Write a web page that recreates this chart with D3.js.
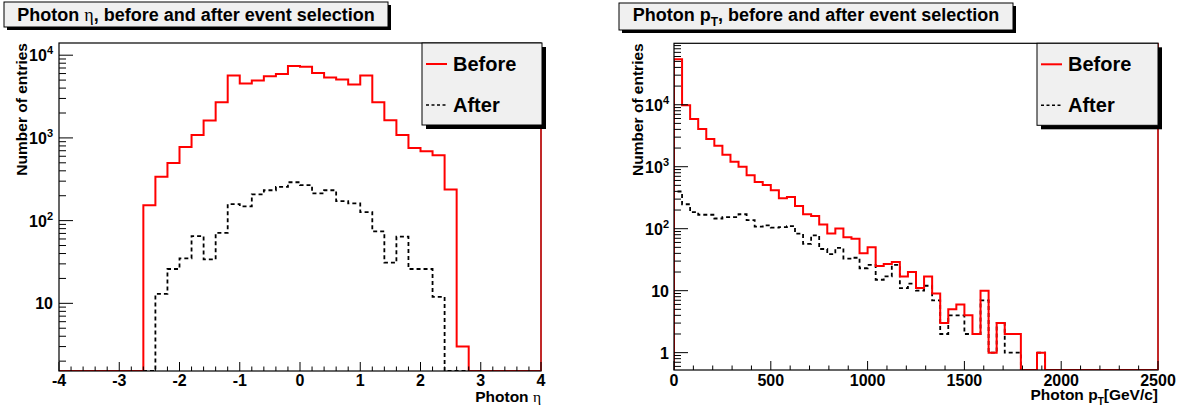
<!DOCTYPE html>
<html><head><meta charset="utf-8">
<script src="https://cdn.jsdelivr.net/npm/d3@7"></script>
<style>
body{margin:0;background:#fff;}
text{font-family:"Liberation Sans",Arial,sans-serif;font-weight:bold;fill:#000;}
.sym{font-family:"Liberation Serif","DejaVu Serif",serif;font-weight:normal;}
</style></head>
<body>
<svg id="c" width="1181" height="412"></svg>
<script>
// ---------- data ----------
const etaRange = [-4, 4];
const etaBinWidth = 0.2;
const etaBefore = [0,0,0,0,0,0,0,153,338,499,778,1086,1622,2703,5682,4546,4943,5574,5940,7427,
                   7260,6092,5376,5083,4423,5682,2703,1637,1086,757,690,618,238,3,0,0,0,0,0,0];
const etaAfter  = [0,0,0,0,0,0,0,0,13,26,35,65,34,71,158,149,208,233,256,291,
                   268,214,233,172,162,127,74,31,64,26,26,12,0,0,0,0,0,0,0,0];
const ptRange = [0, 2500];
const ptBinWidth = 2500/60;
const ptBefore = [54000,9800,5900,4060,2800,2180,1560,1200,995,731,569,509,418,310,325,232,171,160,117,84,
                  101,73,69,40,50,25,27,29,17,20,11,17,9,3,5,6,4,2,10,1,3,2,2,0,0,1,0,0,0,0,
                  0,0,0,0,0,0,0,0,0,0];
const ptAfter  = [398,248,185,168,168,146,154,154,171,138,108,113,104,106,110,83,57,78,47,39,
                  49,33,34,23,26,15,17,26,11,13,10,12,7,2,4,4,2,2,7,1,3,1,1,0,0,1,0,0,0,0,
                  0,0,0,0,0,0,0,0,0,0];
const etaTicks = [-4,-3,-2,-1,0,1,2,3,4];
const ptTicks = [0,500,1000,1500,2000,2500];
const leftYLabels = [[10,"10",""],[100,"10","2"],[1000,"10","3"],[10000,"10","4"]];
const rightYLabels = [[1,"1",""],[10,"10",""],[100,"10","2"],[1000,"10","3"],[10000,"10","4"]];
const legendNames = ["Before","After"];

// ---------- drawing ----------
const svg = d3.select("#c");
const defs = svg.append("defs");

function panel(o){
  const g = svg.append("g");
  const x = d3.scaleLinear().domain(o.xDomain).range([o.L, o.R]);
  const y = d3.scaleLog().domain(o.yDomain).range([o.B, o.T]);
  const cid = "clip"+o.id;
  defs.append("clipPath").attr("id",cid).append("rect")
     .attr("x",o.L).attr("y",o.T-2).attr("width",o.R-o.L).attr("height",o.B-o.T+2);

  function stepPts(vals){
    const pts=[[x(o.xDomain[0]), o.B]];
    vals.forEach((v,i)=>{
      const yy = v>0 ? y(Math.max(v,o.yDomain[0])) : o.B;
      pts.push([x(o.xDomain[0]+i*o.bw), yy],[x(o.xDomain[0]+(i+1)*o.bw), yy]);
    });
    pts.push([x(o.xDomain[1]), o.B]);
    return pts;
  }
  const hg = g.append("g").attr("clip-path",`url(#${cid})`);
  hg.append("path").attr("d",d3.line()(stepPts(o.after))).attr("fill","none")
    .attr("stroke","#000").attr("stroke-width",1.8).attr("stroke-dasharray","4,3");
  hg.append("path").attr("d",d3.line()(stepPts(o.before))).attr("fill","none")
    .attr("stroke","#ff0000").attr("stroke-width",2);

  g.append("rect").attr("x",o.L).attr("y",o.T).attr("width",o.R-o.L).attr("height",o.B-o.T)
   .attr("fill","none").attr("stroke","#000").attr("stroke-width",1.2);
  g.append("line").attr("x1",o.R).attr("x2",o.R).attr("y1",o.T).attr("y2",o.B)
   .attr("stroke","#ff0000").attr("stroke-width",1.2);

  const xt = g.append("g");
  d3.range(o.xDomain[0], o.xDomain[1]+o.xMinor/2, o.xMinor).forEach(v=>{
    const isMaj = Math.abs(v/o.xMajor - Math.round(v/o.xMajor))<1e-6;
    xt.append("line").attr("x1",x(v)).attr("x2",x(v)).attr("y1",o.B).attr("y2",o.B-(isMaj?9:4.5))
      .attr("stroke","#000").attr("stroke-width",1);
  });
  o.xTicks.forEach(v=>{
    xt.append("text").attr("x",x(v)).attr("y",386).attr("text-anchor","middle")
      .attr("font-size",16).text(v);
  });
  const yt = g.append("g");
  const d0 = Math.floor(Math.log10(o.yDomain[0])), d1 = Math.ceil(Math.log10(o.yDomain[1]));
  for(let d=d0; d<=d1; d++){
    for(let k=1;k<=9;k++){
      const v = k*Math.pow(10,d);
      if(v<o.yDomain[0]||v>o.yDomain[1]) continue;
      yt.append("line").attr("x1",o.L).attr("x2",o.L+(k===1?14:7)).attr("y1",y(v)).attr("y2",y(v))
        .attr("stroke","#000").attr("stroke-width",1);
    }
  }
  o.yLabels.forEach(([v,base,exp])=>{
    const t = yt.append("text").attr("x",o.L-o.lblGap).attr("y",y(v)+6).attr("text-anchor","end")
      .attr("font-size",16);
    t.append("tspan").text(base);
    if(exp) t.append("tspan").attr("font-size",11).attr("dy",-7).text(exp);
  });

  g.append("text").attr("transform",`translate(${o.yTitleX},${o.T}) rotate(-90)`)
   .attr("text-anchor","end").attr("font-size",15.5).text("Number of entries");
  o.xTitle(g.append("text").attr("x",o.R).attr("y",o.xTitleY).attr("text-anchor","end").attr("font-size",15.5));

  const lg = g.append("g");
  const lb = o.leg;
  lg.append("rect").attr("x",lb.x+4).attr("y",lb.y+4).attr("width",lb.w).attr("height",lb.h).attr("fill","#000");
  lg.append("rect").attr("x",lb.x).attr("y",lb.y).attr("width",lb.w).attr("height",lb.h)
    .attr("fill","#f0f0f0").attr("stroke","#000").attr("stroke-width",1);
  legendNames.forEach((n,i)=>{
    const cy = lb.y + (i===0?21:62);
    lg.append("line").attr("x1",lb.x+4).attr("x2",lb.x+25).attr("y1",cy).attr("y2",cy)
      .attr("stroke", i===0?"#ff0000":"#000").attr("stroke-width", i===0?2:1.5)
      .attr("stroke-dasharray", i===0?null:"3,2.5");
    lg.append("text").attr("x",lb.x+31).attr("y",cy+7).attr("font-size",20).text(n);
  });

  const tb = o.tbox;
  g.append("rect").attr("x",tb.x+3).attr("y",tb.y+3).attr("width",tb.w).attr("height",tb.h).attr("fill","#000");
  g.append("rect").attr("x",tb.x).attr("y",tb.y).attr("width",tb.w).attr("height",tb.h)
   .attr("fill","#f0f0f0").attr("stroke","#000").attr("stroke-width",1);
  o.title(g.append("text").attr("x",tb.x+tb.w/2).attr("y",tb.ty).attr("text-anchor","middle").attr("font-size",18));
}

panel({
  id:"L", L:59, R:541, T:43, B:371, xDomain:etaRange, yDomain:[1.52,14045], bw:etaBinWidth,
  before:etaBefore, after:etaAfter, xMinor:0.2, xMajor:1, xTicks:etaTicks, yLabels:leftYLabels, lblGap:6,
  yTitleX:26.5, xTitleY:402,
  xTitle:t=>{t.append("tspan").text("Photon ");t.append("tspan").attr("class","sym").text("η");},
  leg:{x:422,y:43,w:120,h:82},
  tbox:{x:4,y:2,w:384,h:25,ty:20.5},
  title:t=>{t.append("tspan").text("Photon ");t.append("tspan").attr("class","sym").text("η");
            t.append("tspan").text(", before and after event selection");}
});
panel({
  id:"R", L:674, R:1158, T:43.3, B:370, xDomain:ptRange, yDomain:[0.525,98000], bw:ptBinWidth,
  before:ptBefore, after:ptAfter, xMinor:100, xMajor:500, xTicks:ptTicks, yLabels:rightYLabels, lblGap:5,
  yTitleX:643, xTitleY:400,
  xTitle:t=>{t.append("tspan").text("Photon p");t.append("tspan").attr("font-size",10).attr("dy",5).text("T");
             t.append("tspan").attr("dy",-5).text("[GeV/c]");},
  leg:{x:1037,y:43.3,w:121,h:82},
  tbox:{x:619,y:3,w:394,h:27,ty:21},
  title:t=>{t.append("tspan").text("Photon p");t.append("tspan").attr("font-size",12).attr("dy",5).text("T");
            t.append("tspan").attr("dy",-5).text(", before and after event selection");}
});
</script>
</body></html>
